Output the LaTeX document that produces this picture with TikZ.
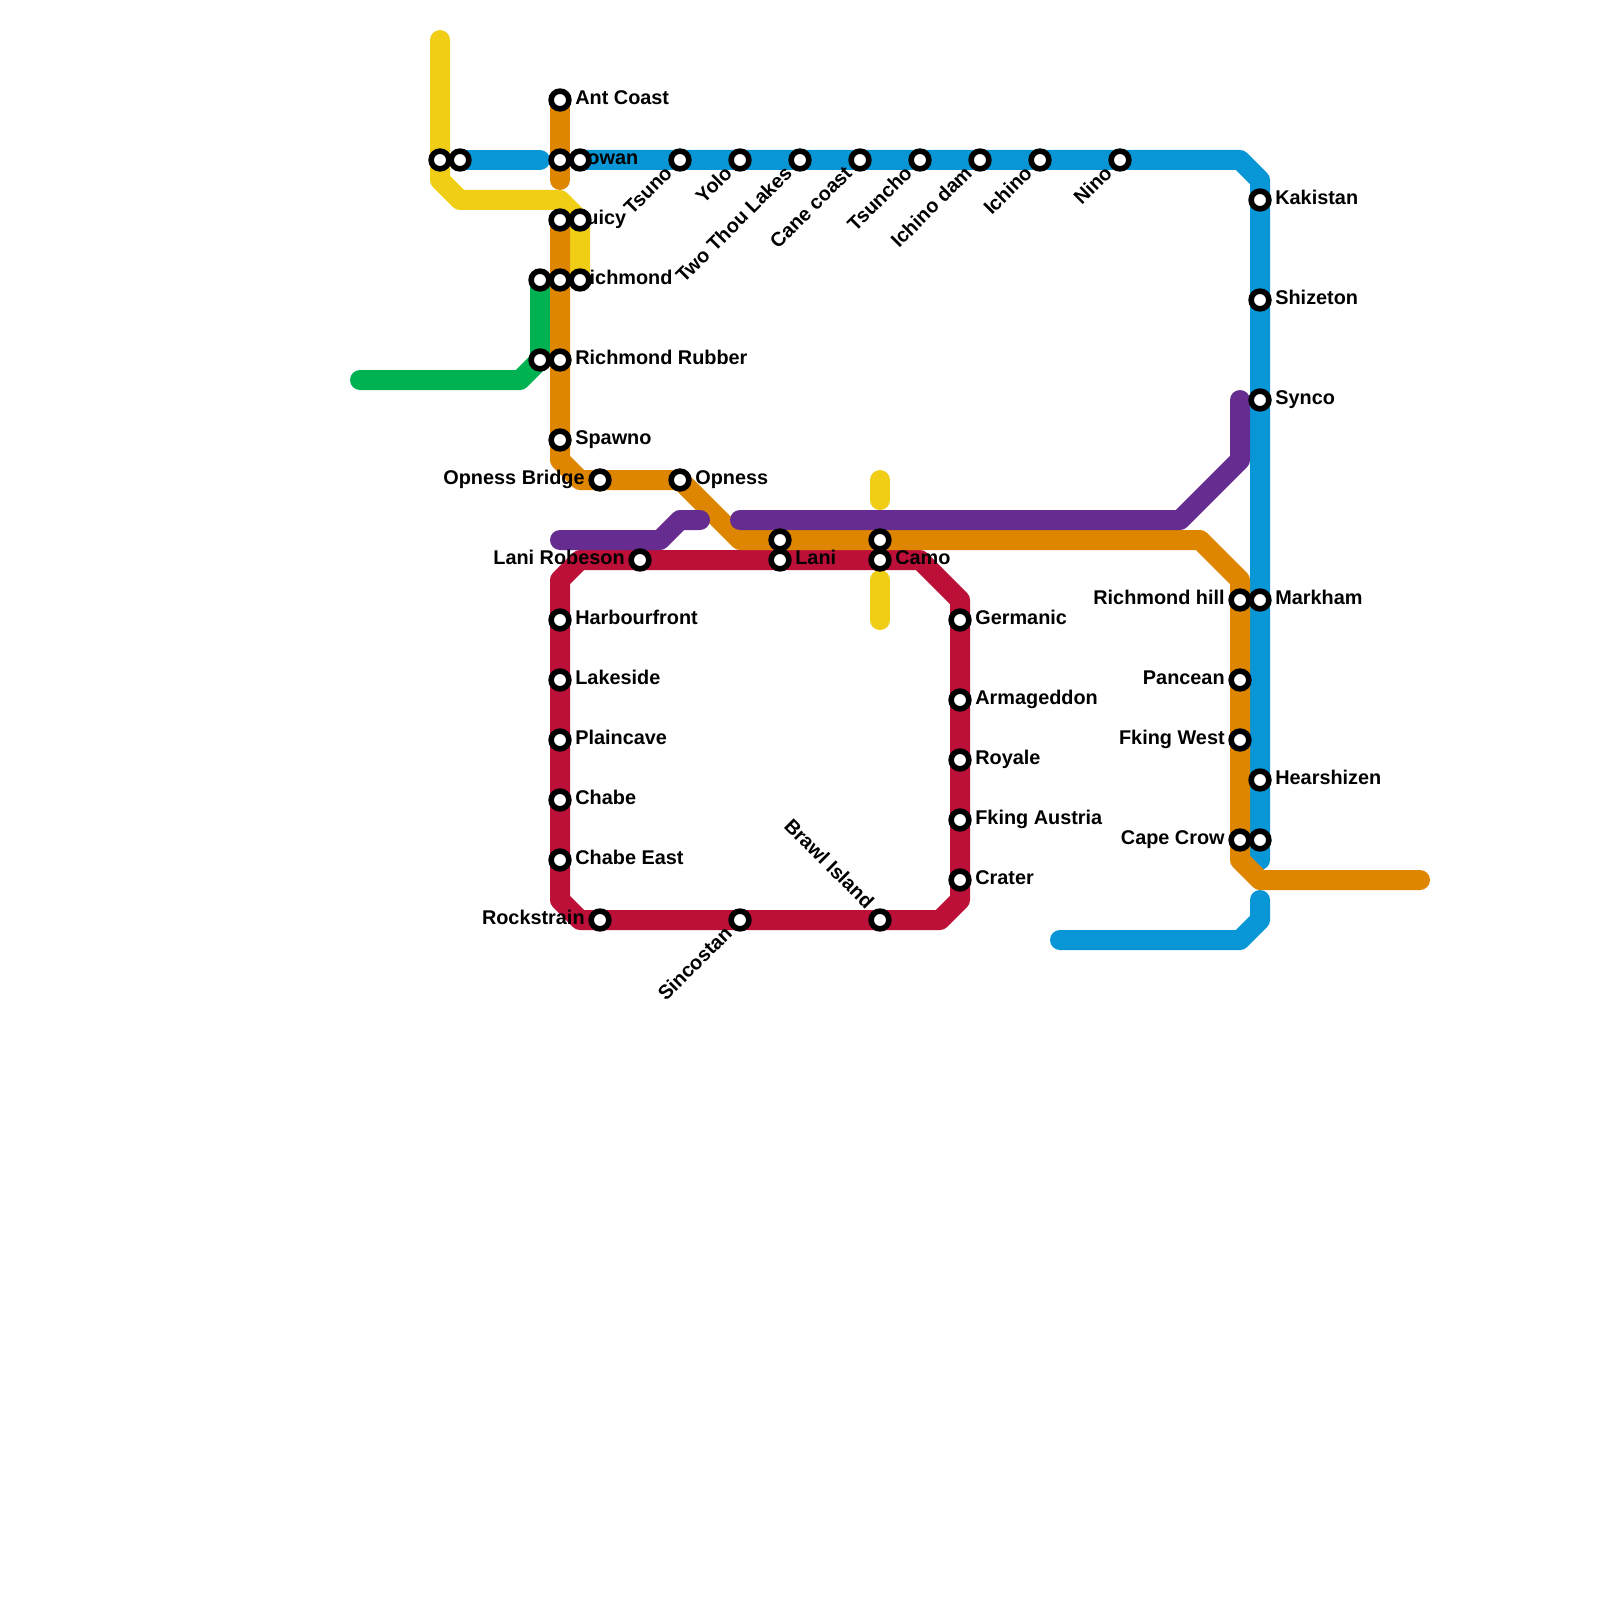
\documentclass[tikz,border=0pt]{standalone}
\usepackage{fontspec}
\setmainfont{Liberation Sans}
\definecolor{LineBlue}{HTML}{0896D7}
\definecolor{LineOrange}{HTML}{DF8600}
\definecolor{LineYellow}{HTML}{F0CE15}
\definecolor{LineGreen}{HTML}{00B251}
\definecolor{LinePurple}{HTML}{662C90}
\definecolor{LineRed}{HTML}{BD1038}
\usetikzlibrary{backgrounds}
\pgfdeclarelayer{lines}
\pgfdeclarelayer{names}
\pgfsetlayers{lines,names,main}
\tikzset{
  ln/.style={line width=0.4cm,line cap=round,line join=round},
  stn/.style={circle,draw=black,fill=white,line width=0.112cm,minimum size=0.355cm,inner sep=0pt,outer sep=0pt},
  lbl/.style={font=\bfseries\fontsize{11.3}{13}\selectfont,text=black,inner sep=0pt},
}

\begin{document}
\begin{tikzpicture}[x=0.4cm,y=-0.4cm]
\useasboundingbox (0,0) rectangle (80,80);

% stations with a label on the right
\foreach \n/\x/\y/\t in {antcoast/28/5/Ant Coast, lowan/28/8/Lowan, juicy/28/11/Juicy,
  richmond/28/14/Richmond, rubber/28/18/Richmond Rubber, spawno/28/22/Spawno,
  opness/34/24/Opness, harbour/28/31/Harbourfront, lakeside/28/34/Lakeside,
  plaincave/28/37/Plaincave, chabe/28/40/Chabe, chabeeast/28/43/Chabe East,
  lani/39/28/Lani, camo/44/28/Camo, germanic/48/31/Germanic, armageddon/48/35/Armageddon,
  royale/48/38/Royale, austria/48/41/Fking Austria, crater/48/44/Crater,
  kakistan/63/10/Kakistan, shizeton/63/15/Shizeton, synco/63/20/Synco,
  markham/63/30/Markham, hearshizen/63/39/Hearshizen}{
  \node[stn] (\n) at (\x,\y) {};
  \begin{pgfonlayer}{names}
  \node[lbl,anchor=base west] (\n-t) at (\x+0.75,\y+0.23) {\t};
  \end{pgfonlayer}}

% stations with a label on the left
\foreach \n/\x/\y/\t in {opbridge/30/24/Opness Bridge, robeson/32/28/Lani Robeson,
  rockstrain/30/46/Rockstrain, richhill/62/30/Richmond hill, pancean/62/34/Pancean,
  fkingwest/62/37/Fking West, capecrow/62/42/Cape Crow}{
  \node[stn] (\n) at (\x,\y) {};
  \begin{pgfonlayer}{names}
  \node[lbl,anchor=base east] (\n-t) at (\x-0.75,\y+0.23) {\t};
  \end{pgfonlayer}}

% slanted labels
\foreach \n/\x/\y/\t in {tsuno/34/8/Tsuno, yolo/37/8/Yolo, twothou/40/8/Two Thou Lakes,
  cane/43/8/Cane coast, tsuncho/46/8/Tsuncho, ichdam/49/8/Ichino dam, ichino/52/8/Ichino,
  nino/56/8/Nino, sincostan/37/46/Sincostan}{
  \node[stn] (\n) at (\x,\y) {};
  \begin{pgfonlayer}{names}
  \node[lbl,anchor=base east,rotate=45] (\n-t) at (\x-0.33,\y+0.72) {\t};
  \end{pgfonlayer}}
\node[stn] (brawl) at (44,46) {};
\begin{pgfonlayer}{names}
\node[lbl,anchor=base east,rotate=-45] (brawl-t) at (43.3,45.5) {Brawl Island};
\end{pgfonlayer}

% stations with no label
\foreach \n/\x/\y in {ya/22/8, yb/23/8, lowanb/29/8, juicyb/29/11, richb/29/14, richg/27/14,
  rubberg/27/18, lanib/39/27, camob/44/27, capeb/63/42}{
  \node[stn] (\n) at (\x,\y) {};}

% free ends and bends
\foreach \n/\x/\y in {ytop/22/2, yba/22/9, ybb/23/10, ybc/28/10, ybd/29/11,
  gend/18/19, gba/26/19, bstub/27/8, bba/62/8, bbb/63/9, bend/63/43,
  cta/63/45, ctb/63/46, ctc/62/47, ctd/53/47,
  oend/28/9, oba/28/23, obb/29/24, obc/37/27, obd/60/27, obe/62/29, obf/62/43, obg/63/44, oout/71/44,
  pa/28/27, pb/33/27, pc/34/26, pd/35/26, pe/37/26, pf/59/26, pg/62/23, ph/62/20,
  ra/28/29, rb/29/28, rc/46/28, rd/48/30, re/48/45, rf/47/46, rg/29/46, rh/28/45,
  ysa/44/24, ysb/44/25, ysc/44/29, ysd/44/31}{
  \coordinate (\n) at (\x,\y);}

\begin{pgfonlayer}{lines}
% blue
\draw[ln,LineBlue] (yb.center) -- (bstub);
\draw[ln,LineBlue] (lowanb.center) -- (bba) -- (bbb) -- (bend);
\draw[ln,LineBlue] (cta) -- (ctb) -- (ctc) -- (ctd);
% green
\draw[ln,LineGreen] (gend) -- (gba) -- (rubberg.center) -- (richg.center);
% yellow
\draw[ln,LineYellow] (ytop) -- (yba) -- (ybb) -- (ybc) -- (ybd) -- (richb.center);
\draw[ln,LineYellow] (ysa) -- (ysb);
\draw[ln,LineYellow] (ysc) -- (ysd);
% red
\draw[ln,LineRed] (ra) -- (rb) -- (rc) -- (rd) -- (re) -- (rf) -- (rg) -- (rh) -- cycle;
% orange
\draw[ln,LineOrange] (antcoast.center) -- (oend);
\draw[ln,LineOrange] (juicy.center) -- (oba) -- (obb) -- (opness.center) -- (obc) -- (obd)
  -- (obe) -- (obf) -- (obg) -- (oout);
% purple
\draw[ln,LinePurple] (pa) -- (pb) -- (pc) -- (pd);
\draw[ln,LinePurple] (pe) -- (pf) -- (pg) -- (ph);
\end{pgfonlayer}
\end{tikzpicture}
\end{document}
